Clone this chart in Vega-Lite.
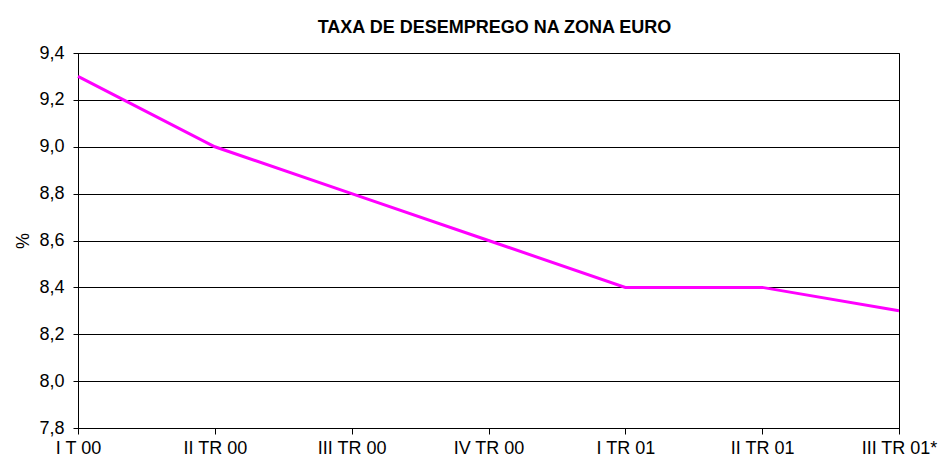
{
  "$schema": "https://vega.github.io/schema/vega-lite/v6.json",
  "width": 821,
  "height": 375,
  "autosize": {"type": "none"},
  "padding": {"left": 78, "top": 53, "right": 42, "bottom": 36},
  "background": "white",
  "config": {
    "font": "Liberation Sans",
    "view": {"stroke": "black", "strokeWidth": 1},
    "locale": {"number": {"decimal": ",", "thousands": ".", "grouping": [3], "currency": ["", " €"]}}
  },
  "title": {
    "text": "TAXA DE DESEMPREGO NA ZONA EURO",
    "font": "Liberation Sans",
    "fontSize": 18,
    "fontWeight": "bold",
    "color": "black",
    "anchor": "middle",
    "dx": 6,
    "offset": 7
  },
  "data": {
    "values": [
      {"periodo": "I T 00", "taxa": 9.3},
      {"periodo": "II TR 00", "taxa": 9.0},
      {"periodo": "III TR 00", "taxa": 8.8},
      {"periodo": "IV TR 00", "taxa": 8.6},
      {"periodo": "I TR 01", "taxa": 8.4},
      {"periodo": "II TR 01", "taxa": 8.4},
      {"periodo": "III TR 01*", "taxa": 8.3}
    ]
  },
  "mark": {"type": "line", "color": "#FF00FF", "strokeWidth": 3},
  "encoding": {
    "x": {
      "field": "periodo",
      "type": "ordinal",
      "sort": null,
      "scale": {"type": "point", "padding": 0},
      "axis": {
        "title": null,
        "labelAngle": 0,
        "labelFontSize": 18,
        "labelColor": "black",
        "labelPadding": 5,
        "domainColor": "black",
        "tickColor": "black",
        "tickSize": 6,
        "grid": false
      }
    },
    "y": {
      "field": "taxa",
      "type": "quantitative",
      "scale": {"domain": [7.8, 9.4], "nice": false, "zero": false},
      "axis": {
        "title": "%",
        "titleFontSize": 18,
        "titleFontWeight": "normal",
        "titleColor": "black",
        "titlePadding": 6,
        "values": [7.8, 8.0, 8.2, 8.4, 8.6, 8.8, 9.0, 9.2, 9.4],
        "format": ".1f",
        "labelFontSize": 18,
        "labelColor": "black",
        "labelPadding": 9,
        "domainColor": "black",
        "tickColor": "black",
        "tickSize": 5,
        "grid": true,
        "gridColor": "black",
        "gridWidth": 1,
        "gridOpacity": 1
      }
    }
  }
}
